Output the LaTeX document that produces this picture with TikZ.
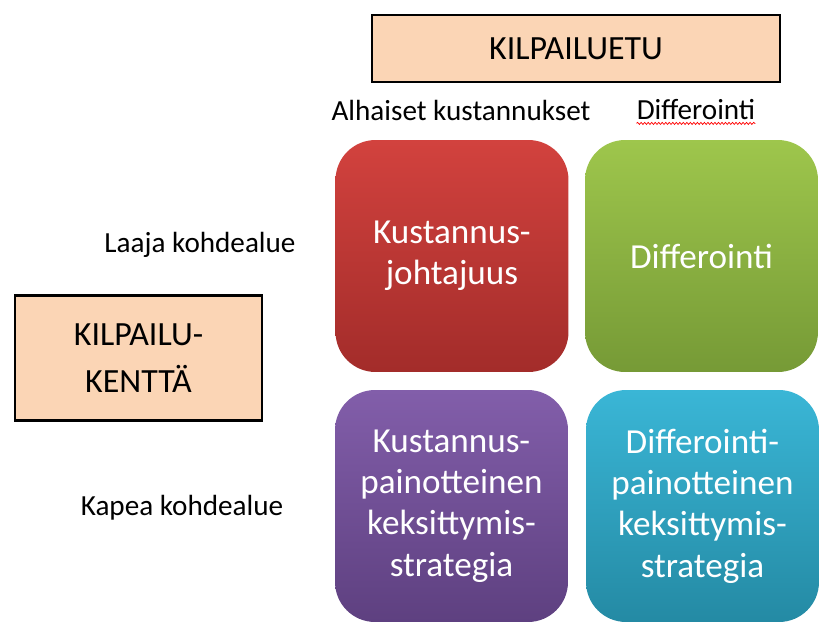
\documentclass[tikz,border=0pt]{standalone}
\usepackage{fontspec}
\setmainfont{Carlito}
\usetikzlibrary{decorations.pathmorphing}

\definecolor{persikka}{RGB}{251,213,181}
\tikzset{
    otsikko/.style={draw=black, line width=1.6pt, fill=persikka, font=\fontsize{19.3}{27}\selectfont, align=center},
    ruutu/.style={rounded corners=0.8cm, minimum width=4.66cm, minimum height=4.64cm, text=white,
        align=center, font=\fontsize{20}{23.5}\selectfont},
    selite/.style={font=\fontsize{16.6}{19}\selectfont}
}

\begin{document}
\begin{tikzpicture}[x=0.02cm, y=-0.02cm]

    % Kuvan rajat
    \useasboundingbox (0,0) rectangle (831,637);

    % Otsikkolaatikot
    \node[otsikko, minimum width=8.16cm, minimum height=1.34cm] (etu) at (576,48.5) {KILPAILUETU};
    \node[otsikko, minimum width=4.94cm, minimum height=2.5cm] (kentta) at (138.5,358) {KILPAILU-\\KENTTÄ};

    % Sarakkeiden ja rivien selitteet
    \node[selite] (halpa) at (461,110) {Alhaiset kustannukset};
    \node[selite] (diff) at (696,110) {Differointi};
    \draw[red, line width=0.4pt, decorate, decoration={snake, amplitude=0.6pt, segment length=2pt}]
        ([xshift=0.12cm, yshift=0.06cm]diff.south west) -- ([xshift=-0.12cm, yshift=0.06cm]diff.south east);
    \node[selite] (laaja) at (200,245) {Laaja kohdealue};
    \node[selite] (kapea) at (182,508) {Kapea kohdealue};

    % Strategiaruudut
    \node[ruutu, top color={rgb,255:red,210;green,66;blue,62}, bottom color={rgb,255:red,163;green,44;blue,42}]
        (johtajuus) at (452,256) {Kustannus-\\johtajuus};
    \node[ruutu, top color={rgb,255:red,158;green,198;blue,76}, bottom color={rgb,255:red,118;green,154;blue,54}]
        (differ) at (701.5,256) {Differointi};
    \node[ruutu, top color={rgb,255:red,130;green,94;blue,170}, bottom color={rgb,255:red,94;green,64;blue,128}]
        (kpaino) at (451.5,506) {Kustannus-\\painotteinen\\keksittymis-\\strategia};
    \node[ruutu, top color={rgb,255:red,58;green,182;blue,214}, bottom color={rgb,255:red,36;green,138;blue,164}]
        (dpaino) at (702.5,506) {Differointi-\\painotteinen\\keksittymis-\\strategia};

\end{tikzpicture}
\end{document}
